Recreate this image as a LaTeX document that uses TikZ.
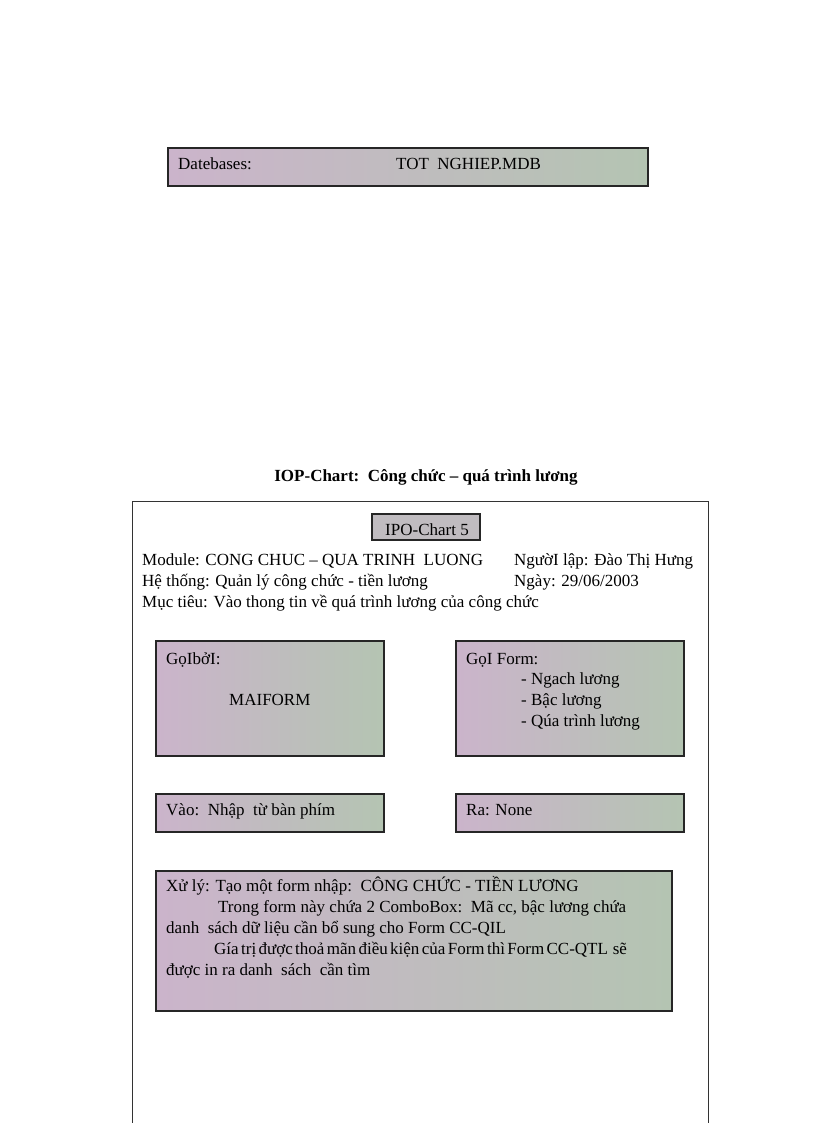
\documentclass[tikz,border=0pt]{standalone}
\usepackage{fontspec}
\setmainfont{Liberation Serif}
\definecolor{pinkL}{HTML}{CBB4CB}
\definecolor{greenR}{HTML}{B4C4B2}
\definecolor{ipoGray}{HTML}{C0BCC0}
\tikzset{
  gbox/.style={draw=black!85, line width=1.1pt, left color=pinkL, right color=greenR, inner sep=0pt},
  ipobox/.style={draw=black!85, line width=1.1pt, fill=ipoGray, inner sep=0pt},
  txt/.style={anchor=base west, inner sep=0pt, font=\fontsize{17}{20}\selectfont},
  frame/.style={draw=black!80, line width=1pt}
}
\begin{document}
\begin{tikzpicture}[x=1pt,y=-1pt]
\useasboundingbox (0,0) rectangle (816,1123);
% database box
\node[gbox, minimum width=480pt, minimum height=38pt] (db) at (408,167) {};
\node[txt] (dbl) at (178,170) {Datebases:};
\node[txt] (dbv) at (396,170) {TOT\ \ NGHIEP.MDB};
% title
\node[anchor=base, inner sep=0pt, font=\fontsize{17}{20}\selectfont\bfseries] (title) at (426,481) {IOP-Chart:\ \ Công chức – quá trình lương};
% outer frame
\coordinate (fbl) at (132,1123);
\coordinate (ftl) at (132,501);
\coordinate (ftr) at (708,501);
\coordinate (fbr) at (708,1123);
\draw[frame] (fbl) -- (ftl) -- (ftr) -- (fbr);
% IPO-Chart 5
\node[ipobox, minimum width=108pt, minimum height=26pt] (ipo) at (426,527) {};
\node[anchor=base, inner sep=0pt, font=\fontsize{17}{20}\selectfont] (ipot) at (427,535) {IPO-Chart 5};
% header lines
\node[txt] (mod) at (142,565) {Module: CONG CHUC – QUA TRINH\ \ LUONG};
\node[txt] (nl) at (514,565) {NgườI lập: Đào Thị Hưng};
\node[txt] (ht) at (142,586) {Hệ thống: Quản lý công chức - tiền lương};
\node[txt] (ng) at (514,586) {Ngày: 29/06/2003};
\node[txt] (mt) at (142,607) {Mục tiêu: Vào thong tin về quá trình lương của công chức};
% GoI boi
\node[gbox, minimum width=228pt, minimum height=115pt] (gb) at (270,698.5) {};
\node[txt] (gbl) at (166,664) {GọIbởI:};
\node[txt] (gbv) at (229,705) {MAIFORM};
% GoI Form
\node[gbox, minimum width=228pt, minimum height=115pt] (gf) at (570,698.5) {};
\node[txt] (gfl) at (466,664) {GọI Form:};
\node[txt] (gf1) at (521,684) {- Ngach lương};
\node[txt] (gf2) at (521,705) {- Bậc lương};
\node[txt] (gf3) at (521,726) {- Qúa trình lương};
% Vao
\node[gbox, minimum width=228pt, minimum height=38pt] (vao) at (270,813) {};
\node[txt] (vaot) at (166,815) {Vào:\ \ Nhập\ \ từ bàn phím};
% Ra
\node[gbox, minimum width=228pt, minimum height=38pt] (ra) at (570,813) {};
\node[txt] (rat) at (466,815) {Ra: None};
% Xu ly
\node[gbox, minimum width=516pt, minimum height=140pt] (xl) at (414,941) {};
\node[txt] (x1) at (166,891) {Xử lý: Tạo một form nhập:\ \ CÔNG CHỨC\ - TIỀN LƯƠNG};
\node[txt] (x2) at (218,912) {Trong form này chứa 2 ComboBox:\ \ Mã cc, bậc lương chứa};
\node[txt] (x3) at (166,933) {danh\ \ sách dữ liệu cần bổ sung cho Form CC-QIL};
\node[txt] (x4) at (214,954) {\spaceskip=0.14em Gía trị được thoả mãn điều kiện của Form thì Form CC-QTL\ \ sẽ};
\node[txt] (x5) at (166,975) {được in ra danh\ \ sách\ \ cần tìm};
\end{tikzpicture}
\end{document}
